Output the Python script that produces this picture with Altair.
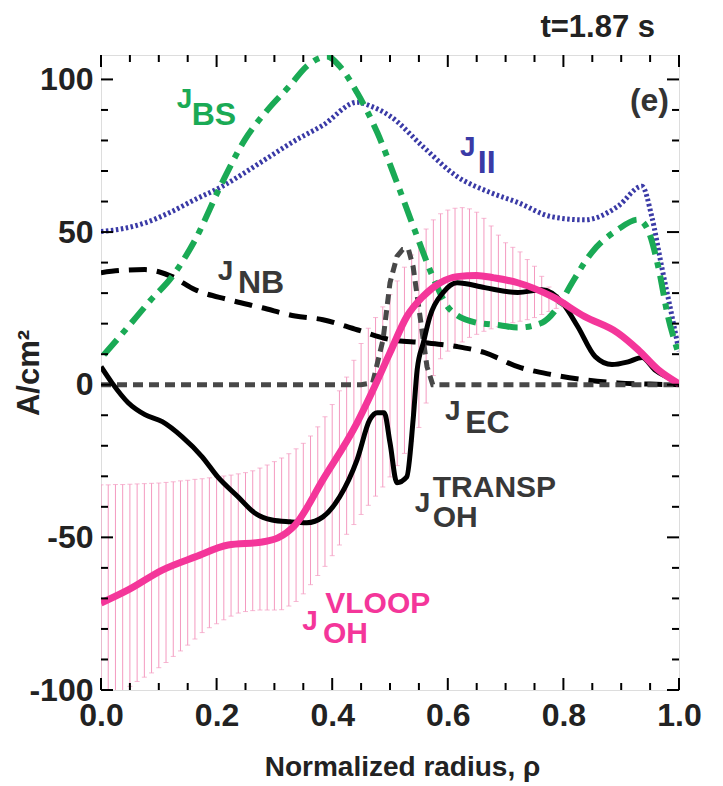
import altair as alt
import pandas as pd

# ---------------- data ----------------
par_x = [0, 0.04, 0.076, 0.12, 0.163, 0.21, 0.249, 0.29, 0.336, 0.384, 0.443, 0.47, 0.5,
         0.557, 0.616, 0.673, 0.721, 0.78, 0.837, 0.894, 0.936, 0.953, 0.97, 0.988, 1.0]
par_y = [50.2, 51.2, 53, 56.5, 60.7, 65, 69.5, 74.5, 80, 85, 92.5, 91, 88,
         78, 68.2, 63, 59.7, 55, 54, 58.4, 65, 55, 38.7, 22.3, 11]

bs_x = [0.005, 0.047, 0.085, 0.123, 0.163, 0.209, 0.249, 0.289, 0.327, 0.356, 0.391, 0.413,
        0.443, 0.478, 0.512, 0.547, 0.574, 0.604, 0.65, 0.69, 0.721, 0.763, 0.791, 0.815,
        0.849, 0.894, 0.929, 0.946, 0.964, 0.981, 0.997]
bs_y = [9.8, 19, 27.5, 35.4, 47.5, 66, 80.3, 90.2, 98, 104.3, 107.5, 104.3,
        95.7, 82.6, 66.2, 48.5, 35.4, 24.6, 20.3, 19.5, 18.7, 20.3, 25.6, 33.4,
        43.3, 50.8, 54.1, 50.8, 38.7, 22.3, 11.5]

nb_x = [0, 0.04, 0.076, 0.1, 0.123, 0.163, 0.22, 0.279, 0.336, 0.384, 0.443, 0.5, 0.557,
        0.616, 0.664, 0.721, 0.78, 0.837, 0.894, 0.95, 1.0]
nb_y = [36.7, 37.5, 37.7, 37, 35.4, 31.1, 27.9, 25.2, 22.5, 21.3, 18, 14.8, 13.8,
        12.5, 10.5, 5.9, 3.3, 1.6, 0.6, 0.2, 0]

ec_x = [0, 0.45, 0.47, 0.488, 0.5, 0.512, 0.522, 0.532, 0.54, 0.552, 0.564, 0.574, 1.0]
ec_y = [0, 0, 0.6, 14.8, 33.4, 42, 44.3, 44.3, 38.7, 22.3, 5.9, 0, 0]

tr_x = [0, 0.019, 0.047, 0.076, 0.106, 0.14, 0.175, 0.202, 0.237, 0.266, 0.296, 0.327,
        0.356, 0.384, 0.413, 0.443, 0.465, 0.478, 0.49, 0.5, 0.512, 0.529, 0.54, 0.547,
        0.558, 0.569, 0.592, 0.616, 0.664, 0.721, 0.763, 0.798, 0.825, 0.855, 0.884,
        0.912, 0.936, 0.958, 0.988, 1.0]
tr_y = [5.9, 0.6, -5.9, -9.8, -12.1, -17, -23.6, -30.2, -36.7, -42, -44.3, -44.9,
        -45.2, -43.3, -36.7, -24.6, -11.5, -9.2, -9.2, -19, -32.1, -30.2, -11.5, 4.9,
        14, 22.3, 30.2, 33.4, 31.8, 30.2, 31.1, 26.9, 19, 9.2, 6.6,
        7.5, 8.9, 4.9, 1.6, 0]

vl_x = [0, 0.047, 0.106, 0.163, 0.22, 0.279, 0.306, 0.336, 0.384, 0.443, 0.47, 0.5,
        0.529, 0.557, 0.587, 0.616, 0.65, 0.68, 0.721, 0.78, 0.837, 0.894, 0.929, 0.964, 1.0]
vl_y = [-71.5, -67.2, -60.7, -56.4, -52.5, -51.5, -50.2, -45.9, -31.1, -12.5, -2, 10.5,
        22.3, 28.9, 33.4, 35.4, 35.8, 35, 33.4, 28.9, 22.3, 17, 11.5, 4.9, 0.3]

err_x = [0.0, 0.0125, 0.025, 0.0375, 0.05, 0.0625, 0.075, 0.0875, 0.1, 0.1125, 0.125,
         0.1375, 0.15, 0.1625, 0.175, 0.1875, 0.2, 0.2125, 0.225, 0.2375, 0.25, 0.2625,
         0.275, 0.2875, 0.3, 0.3125, 0.325, 0.3375, 0.35, 0.3625, 0.375, 0.3875, 0.4,
         0.4125, 0.425, 0.4375, 0.45, 0.4625, 0.475, 0.4875, 0.5, 0.5125, 0.525, 0.5375,
         0.55, 0.5625, 0.575, 0.5875, 0.6, 0.6125, 0.625, 0.6375, 0.65, 0.6625, 0.675,
         0.6875, 0.7, 0.7125, 0.725, 0.7375, 0.75, 0.7625, 0.775, 0.7875, 0.8, 0.8125]
err_hi = [-32.8, -32.8, -32.7, -32.7, -32.6, -32.5, -32.4, -32.3, -32.2, -32.0, -31.8,
          -31.5, -31.3, -31.0, -30.8, -30.5, -30.2, -29.9, -29.6, -29.2, -28.8, -28.2,
          -27.3, -26.3, -25.2, -24.0, -22.6, -21.0, -19.2, -16.8, -13.8, -10.5, -6.5,
          -2.0, 2.5, 8.0, 13.5, 18.5, 22.0, 25.5, 29.5, 34.0, 38.5, 42.5,
          46.5, 51.0, 54.0, 56.0, 57.2, 57.8, 58.0, 57.6, 56.5, 54.5, 52.0,
          49.0, 46.5, 45.0, 43.5, 41.0, 38.8, 35.5, 32.0, 29.5, 27.5, 25.5]
err_lo = [-115, -110, -105, -101.5, -98.8, -97.2, -95.8, -94.4, -92.7, -91.0, -89.0,
          -87.2, -85.3, -83.3, -81.2, -79.6, -78.3, -77.0, -75.8, -74.8, -74.3, -74.0,
          -73.8, -73.8, -73.8, -73.7, -72.5, -71.0, -68.5, -65.5, -62.5, -59.5, -56.0,
          -52.5, -49.0, -45.8, -42.5, -39.5, -36.5, -33.5, -30.2, -26.5, -22.5, -18.5,
          -14.0, -6.0, 3.0, 8.5, 11.0, 12.5, 14.0, 15.5, 16.5, 17.5, 18.3,
          19.0, 19.7, 20.3, 20.8, 21.3, 22.0, 23.0, 24.0, 25.0, 25.5, 25.5]

# curve labels (text, anchor x, anchor y in data units, colour, font size)
lab_text = ["J", "BS", "J", "II", "J", "NB", "J", "EC",
            "J", "TRANSP", "OH", "J", "VLOOP", "OH"]
lab_x = [0.131, 0.157, 0.621, 0.652, 0.202, 0.237, 0.595, 0.630,
         0.543, 0.574, 0.574, 0.348, 0.388, 0.384]
lab_y = [90.8, 85.2, 74.8, 69.2, 34.4, 30.2, -11.5, -15.7,
         -41.6, -36.7, -46.6, -80.3, -74.8, -84.6]
GREEN, BLUE, MAG, GREY = "#1aaa55", "#3a3aa6", "#f4369a", "#383838"
lab_col = [GREEN, GREEN, BLUE, BLUE, GREY, GREY, GREY, GREY,
           GREY, GREY, GREY, MAG, MAG, MAG]
lab_size = [28, 32, 28, 32, 28, 32, 28, 32, 28, 30, 30, 28, 30, 30]

x_major = [0, 0.2, 0.4, 0.6, 0.8, 1.0]
x_minor = [0.05, 0.1, 0.15, 0.25, 0.3, 0.35, 0.45, 0.5, 0.55, 0.65, 0.7, 0.75, 0.85, 0.9, 0.95]
y_major = [-100, -50, 0, 50, 100]
y_minor = [-90, -80, -70, -60, -40, -30, -20, -10, 10, 20, 30, 40, 60, 70, 80, 90]

# ---------------- chart ----------------
FONT = "Liberation Sans, Arial, Helvetica, sans-serif"
W, H = 578, 635

xs = alt.Scale(domain=[0, 1], nice=False, zero=False)
ys = alt.Scale(domain=[-100, 108], nice=False, zero=False)
xaxis = alt.Axis(values=x_major, format=".1f", ticks=False, domain=False, grid=False,
                 labelFlush=False, labelFont=FONT, labelFontSize=32, labelFontWeight="bold",
                 labelColor="#222222", labelPadding=10,
                 titleFont=FONT, titleFontSize=28, titleFontWeight="bold", titleColor="#222222",
                 titleX=301, titleY=85, titleAlign="center", titleBaseline="alphabetic")
yaxis = alt.Axis(values=y_major, ticks=False, domain=False, grid=False,
                 labelFlush=False, labelFont=FONT, labelFontSize=32, labelFontWeight="bold",
                 labelColor="#222222", labelPadding=8,
                 labelExpr="replace(datum.label, '\u2212', '-')",
                 titleFont=FONT, titleFontSize=31, titleFontWeight="bold", titleColor="#222222",
                 titleX=-72, titleY=H / 2, titleAngle=-90, titleAlign="center",
                 titleBaseline="middle")


def X(f="x"):
    return alt.X(f"{f}:Q", scale=xs, axis=xaxis, title="Normalized radius, ρ")


def Y(f="y"):
    return alt.Y(f"{f}:Q", scale=ys, axis=yaxis, title="A/cm²")


err_df = pd.DataFrame({"x": err_x, "lo": err_lo, "hi": err_hi})
PINK = "#f49ac0"
err_rule = alt.Chart(err_df).mark_rule(color=PINK, strokeWidth=1, clip=True).encode(
    x=X(), y=Y("lo"), y2="hi:Q")
cap_lo = alt.Chart(err_df).mark_tick(color=PINK, orient="horizontal", size=5, thickness=1,
                                      clip=True).encode(x=X(), y=Y("lo"))
cap_hi = alt.Chart(err_df).mark_tick(color=PINK, orient="horizontal", size=5, thickness=1,
                                      clip=True).encode(x=X(), y=Y("hi"))


def line(xv, yv, color, width, dash=None, interp="monotone"):
    kw = dict(color=color, strokeWidth=width, clip=True, interpolate=interp, strokeCap="butt")
    if dash:
        kw["strokeDash"] = dash
    return alt.Chart(pd.DataFrame({"x": xv, "y": yv})).mark_line(**kw).encode(x=X(), y=Y())


l_nb = line(nb_x, nb_y, "#000000", 5, [18, 10])
l_ec = line(ec_x, ec_y, "#484848", 5, [10, 6], interp="linear")
l_par = line(par_x, par_y, BLUE, 5, [2.5, 2.5])
l_bs = line(bs_x, bs_y, GREEN, 6, [20, 8, 6, 8])
l_tr = line(tr_x, tr_y, "#000000", 5)
l_vl = line(vl_x, vl_y, MAG, 7)

lab_df = pd.DataFrame({"x": lab_x, "y": lab_y, "t": lab_text, "c": lab_col, "s": lab_size})
labels = alt.Chart(lab_df).mark_text(align="left", baseline="alphabetic", font=FONT,
                                     fontWeight="bold").encode(
    x=X(), y=Y(), text="t:N", color=alt.Color("c:N", scale=None),
    size=alt.Size("s:Q", scale=None))

# inward ticks on all four sides
xmaj = pd.DataFrame({"x": x_major})
xmin = pd.DataFrame({"x": x_minor})
ymaj = pd.DataFrame({"y": y_major})
ymin = pd.DataFrame({"y": y_minor})
tk = dict(color="#000000", strokeWidth=2)
ticks = [
    alt.Chart(xmaj).mark_rule(**tk).encode(x=X(), y=alt.value(H), y2=alt.value(H - 12)),
    alt.Chart(xmin).mark_rule(**tk).encode(x=X(), y=alt.value(H), y2=alt.value(H - 7)),
    alt.Chart(xmaj).mark_rule(**tk).encode(x=X(), y=alt.value(0), y2=alt.value(12)),
    alt.Chart(xmin).mark_rule(**tk).encode(x=X(), y=alt.value(0), y2=alt.value(7)),
    alt.Chart(ymaj).mark_rule(**tk).encode(y=Y(), x=alt.value(0), x2=alt.value(12)),
    alt.Chart(ymin).mark_rule(**tk).encode(y=Y(), x=alt.value(0), x2=alt.value(7)),
    alt.Chart(ymaj).mark_rule(**tk).encode(y=Y(), x=alt.value(W), x2=alt.value(W - 12)),
    alt.Chart(ymin).mark_rule(**tk).encode(y=Y(), x=alt.value(W), x2=alt.value(W - 7)),
]

t_lab = alt.Chart(pd.DataFrame({"t": ["t=1.87 s"]})).mark_text(
    align="right", baseline="alphabetic", font=FONT, fontWeight="bold", fontSize=31,
    color="#222222").encode(text="t:N", x=alt.value(554), y=alt.value(-18))
e_lab = alt.Chart(pd.DataFrame({"t": ["(e)"]})).mark_text(
    align="right", baseline="alphabetic", font=FONT, fontWeight="bold", fontSize=32,
    color="#333333").encode(text="t:N", x=alt.value(568), y=alt.value(56))

chart = alt.layer(
    err_rule, cap_lo, cap_hi, l_nb, l_ec, l_par, l_bs, l_tr, l_vl, labels,
    *ticks, t_lab, e_lab
).properties(
    width=W, height=H, autosize="none",
    padding={"left": 93, "top": 47, "right": 30, "bottom": 100}
).configure_view(stroke="#000000", strokeWidth=3).configure(background="white")

chart.save("out.html", embed_options={"renderer": "svg", "actions": False})
